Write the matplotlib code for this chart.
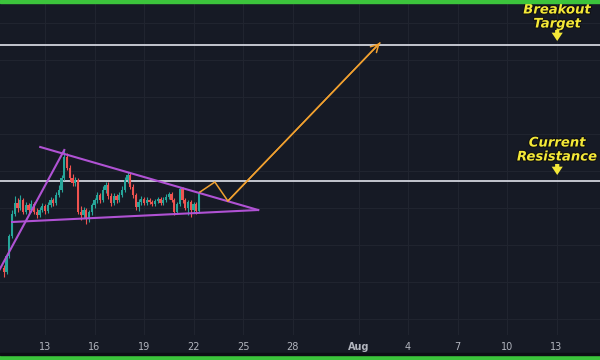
import matplotlib
matplotlib.use('Agg')
from matplotlib import pyplot as plt
from matplotlib.patches import Rectangle
import matplotlib.dates as mdates
import matplotlib.patheffects as pe
import pandas as pd

# 4h candles, the first one opens Jul 10 12:00
start = '2021-07-10 12:00'
first_open = 132
closes = [128, 144, 164, 186, 197, 192, 200, 188, 195, 190, 196, 188, 185, 190, 194, 189, 195, 200,
          197, 205, 210, 222, 243, 232, 222, 217, 220, 188, 185, 190, 182, 188, 195, 200, 205, 200,
          210, 215, 204, 197, 204, 200, 205, 210, 220, 225, 213, 205, 193, 198, 201, 197, 200, 198,
          196, 199, 201, 197, 200, 203, 206, 200, 188, 196, 211, 200, 192, 198, 190, 196, 189, 207]
highs = [135, 146, 166, 190, 204, 202, 205, 202, 198, 197, 200, 198, 192, 193, 197, 196, 198, 203,
         202, 208, 215, 225, 250, 247, 235, 226, 223, 222, 194, 193, 192, 190, 197, 202, 208, 207,
         214, 218, 218, 207, 207, 206, 208, 214, 223, 228, 227, 216, 207, 201, 204, 203, 203, 202,
         200, 201, 203, 203, 203, 206, 208, 208, 202, 198, 213, 213, 202, 200, 200, 198, 198, 209]
lows = [123, 126, 142, 162, 184, 188, 190, 186, 186, 187, 188, 186, 182, 183, 188, 186, 187, 193,
        194, 195, 203, 208, 220, 230, 219, 214, 214, 186, 180, 182, 176, 178, 185, 192, 197, 197,
        198, 207, 201, 194, 195, 197, 198, 203, 208, 217, 211, 202, 190, 189, 195, 195, 195, 196,
        194, 194, 197, 195, 195, 198, 201, 198, 185, 186, 194, 197, 190, 185, 183, 187, 186, 187]

resistance = 219
target = 355

# triangle lines, (time, price) pairs
upper_line = [('2021-07-12 17:00', 253), ('2021-07-25 22:00', 190)]
lower_line = [('2021-07-11 00:00', 178), ('2021-07-25 22:00', 190)]
rise_line = [('2021-07-10 04:00', 128), ('2021-07-14 04:00', 250)]

# projected path
path_times = ['2021-07-22 09:30', '2021-07-23 07:00', '2021-07-24 02:00', '2021-08-02 07:00']
path_prices = [208, 218, 199, 357]

tick_dates = ['2021-07-13', '2021-07-16', '2021-07-19', '2021-07-22', '2021-07-25', '2021-07-28',
              '2021-08-01', '2021-08-04', '2021-08-07', '2021-08-10', '2021-08-13']
tick_labels = ['13', '16', '19', '22', '25', '28', 'Aug', '4', '7', '10', '13']
grid_levels = [81, 118, 155, 192, 229, 266, 303, 340, 377]

bg = '#161a25'
green = '#3cc43c'
up_col = '#26a69a'
down_col = '#ef5350'
purple = '#b052d4'
orange = '#f0a030'
yellow = '#f4e838'

fig = plt.figure(figsize=(6, 3.6), dpi=100, facecolor=bg)
# green strips on top and bottom, dark line above the bottom one
fig.patches.append(Rectangle((0, 357 / 360), 1, 3 / 360, transform=fig.transFigure,
                             color=green, zorder=5))
fig.patches.append(Rectangle((0, 0), 1, 5 / 360, transform=fig.transFigure,
                             color=green, zorder=5))
fig.patches.append(Rectangle((0, 5 / 360), 1, 2 / 360, transform=fig.transFigure,
                             color='#0c0e14', zorder=5))
ax = fig.add_axes([0, 25 / 360, 1, 332 / 360], facecolor=bg)

times = pd.date_range(start, periods=len(closes), freq='4h')
opens = [first_open] + closes[:-1]
x = mdates.date2num(times)

# candles
for t, o, h, l, c in zip(x, opens, highs, lows, closes):
    col = up_col if c >= o else down_col
    ax.vlines(t, l, h, color=col, lw=0.8, zorder=3)
    ax.bar(t, max(abs(c - o), 0.8), bottom=min(o, c), width=0.14, color=col, zorder=3)

# horizontal levels
ax.axhline(resistance, color='#d1d4dc', lw=1.3, zorder=2)
ax.axhline(target, color='#d1d4dc', lw=1.3, zorder=2)

# triangle
for line in [upper_line, lower_line, rise_line]:
    ts = [pd.Timestamp(p[0]) for p in line]
    ax.plot(ts, [p[1] for p in line], color=purple, lw=1.5, zorder=4)

# projected path with arrow head
pts = [pd.Timestamp(t) for t in path_times]
ax.plot(pts, path_prices, color=orange, lw=1.1, zorder=5)
ax.annotate('', xy=(pts[-1], path_prices[-1]), xytext=(pts[-2], path_prices[-2]),
            arrowprops=dict(arrowstyle='->,head_length=0.55,head_width=0.3', color=orange,
                            lw=1.1, shrinkA=0, shrinkB=0), zorder=5)

# labels with down arrows
label_x = pd.Timestamp('2021-08-13 01:00')
stroke = [pe.withStroke(linewidth=1.5, foreground='#101010')]
ax.text(label_x, 383, 'Breakout\nTarget', color=yellow, fontsize=9.5, fontweight='bold',
        style='italic', ha='center', va='center', linespacing=1.1, path_effects=stroke)
ax.text(label_x, 250, 'Current\nResistance', color=yellow, fontsize=9.5, fontweight='bold',
        style='italic', ha='center', va='center', linespacing=1.1, path_effects=stroke)
for top, tip in [(370, 359), (236, 225)]:
    ax.annotate('', xy=(label_x, tip), xytext=(label_x, top),
                arrowprops=dict(arrowstyle='simple,head_length=0.6,head_width=0.8,tail_width=0.3',
                                fc=yellow, ec='none', shrinkA=0, shrinkB=0))

ax.set_xlim(pd.Timestamp('2021-07-10 06:30'), pd.Timestamp('2021-08-15 15:15'))
ax.set_ylim(65, 397)
ax.set_xticks([pd.Timestamp(d) for d in tick_dates])
ax.set_xticklabels(tick_labels)
ax.set_yticks(grid_levels)
ax.set_yticklabels([])
ax.tick_params(axis='both', length=0, colors='#b2b5be', labelsize=7, pad=5)
for lab in ax.get_xticklabels():
    if lab.get_text() == 'Aug':
        lab.set_fontweight('bold')
ax.grid(True, color='#20242f', lw=0.8)
for s in ax.spines.values():
    s.set_visible(False)

fig.savefig('out.png', dpi=100, facecolor=fig.get_facecolor())
